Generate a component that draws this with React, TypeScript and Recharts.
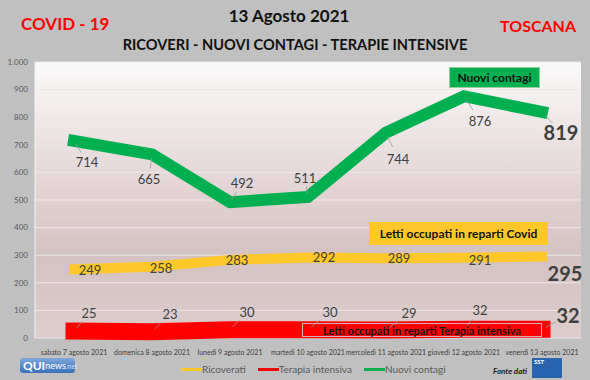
import { ComposedChart, Line, XAxis, YAxis, CartesianGrid, Legend, LabelList } from "recharts";

const days = [
  "sabato 7 agosto 2021",
  "domenica 8 agosto 2021",
  "lunedì 9 agosto 2021",
  "martedì 10 agosto 2021",
  "mercoledì 11 agosto 2021",
  "giovedì 12 agosto 2021",
  "venerdì 13 agosto 2021",
];
const ricoverati = [249, 258, 283, 292, 289, 291, 295];
const terapiaIntensiva = [25, 23, 30, 30, 29, 32, 32];
const nuoviContagi = [714, 665, 492, 511, 744, 876, 819];
const yTicks = [0, 100, 200, 300, 400, 500, 600, 700, 800, 900, 1000];

const data = days.map((day, i) => ({
  day,
  ricoverati: ricoverati[i],
  terapia: terapiaIntensiva[i],
  contagi: nuoviContagi[i],
}));

const YELLOW = "#FFC828";
const RED = "#FF0000";
const GREEN = "#00B050";
const FONT = "Lato, 'Open Sans', sans-serif";

// where each data label sits relative to its point
const greenShift = [[13, 21], [-3, 25], [12, -19], [-3, -19], [12, 26], [16, 25], [19, 20]];
const yellowShift = [[16, 1], [9, 1], [7, 0], [16, 0], [13, 0], [16, 2], [23, 16]];
const redShift = [[15, -18], [18, -18], [17, -18], [22, -18], [23, -17], [16, -19], [26, -14]];

const makeLabel = (shift: number[][], leader: boolean) => (props: any) => {
  const { x, y, value, index } = props;
  const [dx, dy] = shift[index];
  const last = index === days.length - 1;
  return (
    <g>
      {leader && (
        <line
          x1={x + dx * 0.15}
          y1={y + dy * 0.15}
          x2={x + dx * 0.55}
          y2={y + dy * 0.55}
          stroke="#9a9a9a"
          strokeWidth={0.8}
        />
      )}
      <text
        x={x + dx}
        y={y + dy}
        textAnchor="middle"
        dominantBaseline="central"
        fontFamily={FONT}
        fontSize={last ? 20 : 13}
        fontWeight={last ? 700 : 400}
        fill="#404040"
      >
        {value}
      </text>
    </g>
  );
};

const legendItems = [
  { name: "Ricoverati", color: YELLOW },
  { name: "Terapia intensiva", color: RED },
  { name: "Nuovi contagi", color: GREEN },
];

function LegendContent() {
  return (
    <div style={{ display: "flex", alignItems: "center", gap: 12, fontFamily: FONT, fontSize: 10, color: "#595959" }}>
      {legendItems.map((it) => (
        <div key={it.name} style={{ display: "flex", alignItems: "center" }}>
          <div style={{ width: 21, height: 3, background: it.color }} />
          <span>{it.name}</span>
        </div>
      ))}
    </div>
  );
}

export default function App() {
  return (
    <div
      style={{
        position: "absolute",
        left: 0,
        top: 0,
        width: 590,
        height: 380,
        background: "#c0c0c0",
        fontFamily: FONT,
        overflow: "hidden",
      }}
    >
      <svg width={0} height={0} style={{ position: "absolute" }}>
        <defs>
          <linearGradient id="plotBg" x1="0" y1="0" x2="0" y2="1">
            <stop offset="0%" stopColor="#fbfafa" />
            <stop offset="35%" stopColor="#e8dcdc" />
            <stop offset="70%" stopColor="#d5c2c2" />
            <stop offset="100%" stopColor="#ddcdcd" />
          </linearGradient>
        </defs>
      </svg>

      <div style={{ position: "absolute", left: 21, top: 13, color: RED, fontWeight: 700, fontSize: 17 }}>COVID - 19</div>
      <div style={{ position: "absolute", left: 500, top: 16, color: RED, fontWeight: 700, fontSize: 16 }}>TOSCANA</div>
      <div style={{ position: "absolute", left: -6, width: 590, top: 5, textAlign: "center", color: "#111", fontWeight: 700, fontSize: 17 }}>
        13 Agosto 2021
      </div>
      <div style={{ position: "absolute", left: 0, width: 590, top: 36, textAlign: "center", color: "#111", fontWeight: 700, fontSize: 14.6 }}>
        RICOVERI - NUOVI CONTAGI - TERAPIE INTENSIVE
      </div>

      <ComposedChart width={590} height={380} data={data} margin={{ top: 62, right: 9, bottom: 12, left: 0 }}>
        <CartesianGrid vertical={false} fill="url(#plotBg)" stroke="#ece6e6" />
        <XAxis
          dataKey="day"
          scale="band"
          height={30}
          axisLine={false}
          tickLine={false}
          tickMargin={6}
          interval={0}
          tick={{ fontSize: 7, fill: "#404040", fontFamily: FONT }}
        />
        <YAxis
          domain={[0, 1000]}
          ticks={yTicks}
          width={35}
          axisLine={{ stroke: "#f4f4f4" }}
          tickLine={false}
          tickSize={4}
          tickMargin={3}
          tick={{ fontSize: 8, fill: "#595959", fontFamily: FONT }}
          tickFormatter={(v: number) => (v >= 1000 ? "1.000" : String(v))}
        />
        <Legend
          verticalAlign="middle"
          align="center"
          content={LegendContent}
          wrapperStyle={{ position: "absolute", left: 181, top: 363, width: 300 }}
        />
        <Line
          dataKey="ricoverati"
          name="Ricoverati"
          stroke={YELLOW}
          strokeWidth={10}
          strokeLinecap="square"
          dot={false}
          activeDot={false}
          isAnimationActive={false}
        >
          <LabelList dataKey="ricoverati" content={makeLabel(yellowShift, false)} />
        </Line>
        <Line
          dataKey="terapia"
          name="Terapia intensiva"
          stroke={RED}
          strokeWidth={17}
          strokeLinecap="square"
          dot={false}
          activeDot={false}
          isAnimationActive={false}
        >
          <LabelList dataKey="terapia" content={makeLabel(redShift, true)} />
        </Line>
        <Line
          dataKey="contagi"
          name="Nuovi contagi"
          stroke={GREEN}
          strokeWidth={12}
          strokeLinecap="square"
          strokeLinejoin="miter"
          dot={false}
          activeDot={false}
          isAnimationActive={false}
        >
          <LabelList dataKey="contagi" content={makeLabel(greenShift, true)} />
        </Line>
      </ComposedChart>

      <div
        style={{
          position: "absolute", left: 449, top: 67, width: 91, height: 21, background: GREEN,
          border: "1px solid #8fcf9f", boxSizing: "border-box", display: "flex", alignItems: "center",
          justifyContent: "center", fontWeight: 700, fontSize: 12, color: "#111",
        }}
      >
        Nuovi contagi
      </div>
      <div
        style={{
          position: "absolute", left: 369, top: 222, width: 179, height: 23, background: YELLOW,
          display: "flex", alignItems: "center", justifyContent: "center", fontWeight: 700, fontSize: 12, color: "#111",
        }}
      >
        Letti occupati in reparti Covid
      </div>
      <div
        style={{
          position: "absolute", left: 302, top: 323, width: 240, height: 14, border: "1px solid #d8b0b0",
          boxSizing: "border-box", display: "flex", alignItems: "center", justifyContent: "center",
          fontWeight: 700, fontSize: 11, color: "#111",
        }}
      >
        Letti occupati in reparti Terapia intensiva
      </div>

      <div
        style={{
          position: "absolute", left: 20, top: 358, width: 55, height: 15, borderRadius: 3,
          background: "linear-gradient(#7fa8dc, #3a6fb8)", color: "#fff", display: "flex",
          alignItems: "center", paddingLeft: 3, boxSizing: "border-box", fontSize: 11,
        }}
      >
        <b style={{ fontSize: 12 }}>QUI</b>
        <span style={{ fontSize: 9 }}>news</span>
        <span style={{ fontSize: 7, color: "#cfe0f4" }}>.net</span>
      </div>
      <div style={{ position: "absolute", left: 493, top: 366, fontSize: 8, fontStyle: "italic", fontWeight: 700, color: "#222" }}>
        Fonte dati
      </div>
      <div
        style={{
          position: "absolute", left: 532, top: 358, width: 30, height: 20, background: "#2a64b0",
          color: "#fff", fontSize: 6, fontWeight: 700, paddingLeft: 2, boxSizing: "border-box",
        }}
      >
        SST
      </div>
    </div>
  );
}
